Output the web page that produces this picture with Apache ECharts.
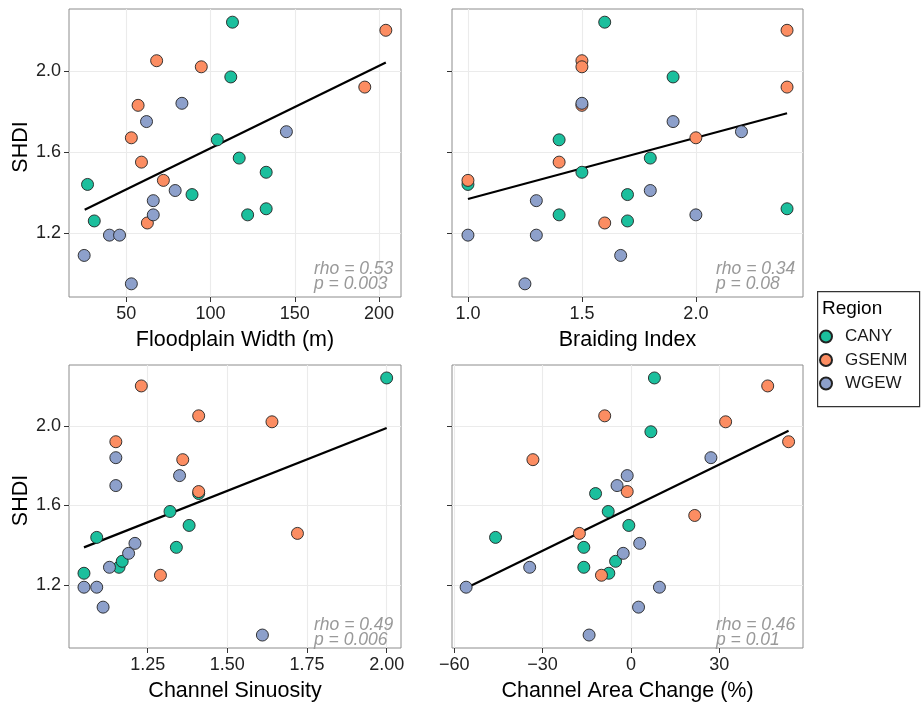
<!DOCTYPE html>
<html>
<head>
<meta charset="utf-8">
<script src="https://cdn.jsdelivr.net/npm/echarts@6/dist/echarts.min.js"></script>
<style>
  html, body { margin: 0; padding: 0; background: #fff; }
  #chart { width: 924px; height: 703px; }
</style>
</head>
<body>
<div id="chart"></div>
<script>
  const FONT = 'Liberation Sans, Arial, Helvetica, sans-serif';

  const regions = ['CANY', 'GSENM', 'WGEW'];
  const regionColors = ['#1bbf9d', '#fc8d62', '#8da0cb'];

  // SHDI per site (same sites in every panel)
  const shdiCANY = [2.24, 1.97, 1.66, 1.57, 1.50, 1.44, 1.39, 1.29, 1.32, 1.26];
  const shdiGSENM = [2.20, 2.05, 2.02, 1.92, 1.83, 1.67, 1.55, 1.46, 1.25];
  const shdiWGEW = [1.84, 1.75, 1.70, 1.41, 1.36, 1.29, 1.19, 1.19, 1.09, 0.95];

  // Floodplain width (m)
  const widthCANY = [113, 112, 104, 117, 133, 27, 89, 122, 133, 31];
  const widthGSENM = [204, 68, 94.5, 191.5, 57, 53, 59, 72, 62.5];
  const widthWGEW = [83, 62, 145, 79, 66, 66, 40, 46, 25, 53];

  // Braiding index
  const braidCANY = [1.6, 1.9, 1.4, 1.8, 1.5, 1.0, 1.7, 1.4, 2.4, 1.7];
  const braidGSENM = [2.4, 1.5, 1.5, 2.4, 1.5, 2.0, 1.4, 1.0, 1.6];
  const braidWGEW = [1.5, 1.9, 2.2, 1.8, 1.3, 2.0, 1.0, 1.3, 1.67, 1.25];

  // Channel sinuosity (null = not plotted)
  const sinuCANY = [2.0, null, 1.41, 1.32, 1.38, 1.09, 1.34, 1.16, 1.17, 1.05];
  const sinuGSENM = [1.23, 1.41, 1.64, 1.15, 1.36, 1.41, null, 1.72, 1.29];
  const sinuWGEW = [1.15, 1.35, 1.15, 1.21, 1.19, 1.13, 1.05, 1.09, 1.11, 1.61];

  // Channel area change (%)
  const areaCANY = [8, 6.8, -12, -7.7, -0.7, -46, -16, -16, -5.2, -7.5];
  const areaGSENM = [46.5, -8.9, 32.2, 53.6, -33.3, -1.25, 21.7, -17.5, -10];
  const areaWGEW = [27.2, -1.25, -4.7, 3.0, -2.6, -34.4, -56, 9.7, 2.6, -14.2];

  // fitted lines (ends)
  const fitX1 = [25.3, 204], fitY1 = [1.315, 2.041];
  const fitX2 = [1.0, 2.4], fitY2 = [1.368, 1.791];
  const fitX3 = [1.05, 2.0], fitY3 = [1.39, 1.989];
  const fitX4 = [-55.8, 53.6], fitY4 = [1.187, 1.975];

  const rhoLabels = ['0.53', '0.34', '0.49', '0.46'];
  const pLabels = ['0.003', '0.08', '0.006', '0.01'];

  const xTicks1 = [50, 100, 150, 200];
  const xTicks2 = [1.0, 1.5, 2.0];
  const xTicks3 = [1.25, 1.5, 1.75, 2.0];
  const xTicks4 = [-60, -30, 0, 30];
  const yTicks = [1.2, 1.6, 2.0];

  const xNames = ['Floodplain Width (m)', 'Braiding Index', 'Channel Sinuosity', 'Channel Area Change (%)'];

  const shdi = [shdiCANY, shdiGSENM, shdiWGEW];
  const xData = [
    [widthCANY, widthGSENM, widthWGEW],
    [braidCANY, braidGSENM, braidWGEW],
    [sinuCANY, sinuGSENM, sinuWGEW],
    [areaCANY, areaGSENM, areaWGEW]
  ];
  const fits = [[fitX1, fitY1], [fitX2, fitY2], [fitX3, fitY3], [fitX4, fitY4]];

  const grids = [
    { left: 69, top: 9, width: 332, height: 288 },
    { left: 452, top: 9, width: 351, height: 288 },
    { left: 69, top: 365, width: 332, height: 288 },
    { left: 452, top: 365, width: 351, height: 288 }
  ];
  const xRanges = [[16, 213], [0.93, 2.47], [1.003, 2.045], [-60.8, 58.5]];
  const xTicks = [xTicks1, xTicks2, xTicks3, xTicks4];
  const xFormat = [
    v => String(v),
    v => v.toFixed(1),
    v => v.toFixed(2),
    v => (v < 0 ? '\u2212' + Math.abs(v) : String(v))
  ];

  const tickStyle = { show: true, length: 5, lineStyle: { color: '#333', width: 1 } };
  const gridLine = { show: true, lineStyle: { color: '#ebebeb', width: 1.1 } };

  const xAxis = [], yAxis = [], series = [], graphic = [];

  for (let i = 0; i < 4; i++) {
    xAxis.push({
      type: 'value', gridIndex: i,
      min: xRanges[i][0], max: xRanges[i][1],
      name: xNames[i], nameLocation: 'middle', nameGap: 32,
      nameTextStyle: { fontFamily: FONT, fontSize: 21.5, color: '#000' },
      axisLine: { show: false, onZero: false },
      axisTick: Object.assign({ customValues: xTicks[i] }, tickStyle),
      axisLabel: {
        customValues: xTicks[i], formatter: xFormat[i], margin: 8,
        fontFamily: FONT, fontSize: 18, color: '#222'
      },
      splitLine: gridLine
    });
    const leftCol = i % 2 === 0;
    yAxis.push({
      type: 'value', gridIndex: i, min: 0.885, max: 2.305,
      name: leftCol ? 'SHDI' : '', nameLocation: 'middle', nameGap: 36,
      nameTextStyle: { fontFamily: FONT, fontSize: 21.5, color: '#000', padding: [0, 0, 0, 12] },
      axisLine: { show: false, onZero: false },
      axisTick: Object.assign({ customValues: yTicks }, tickStyle),
      axisLabel: {
        show: leftCol, customValues: yTicks, formatter: v => v.toFixed(1), margin: 8,
        fontFamily: FONT, fontSize: 18, color: '#222'
      },
      splitLine: gridLine
    });

    // regression line
    series.push({
      name: 'fit' + i, type: 'line', xAxisIndex: i, yAxisIndex: i,
      data: fits[i][0].map((x, k) => [x, fits[i][1][k]]),
      showSymbol: false, silent: true, z: 3,
      lineStyle: { color: '#000', width: 2.2 }
    });

    for (let r = 0; r < 3; r++) {
      const pts = [];
      xData[i][r].forEach((x, k) => { if (x !== null) pts.push([x, shdi[r][k]]); });
      series.push({
        name: regions[r], type: 'scatter', xAxisIndex: i, yAxisIndex: i,
        data: pts, symbolSize: 12, z: 4,
        itemStyle: { color: regionColors[r], borderColor: '#222', borderWidth: 0.9, opacity: 1 }
      });
    }

    const g = grids[i];
    const tx = g.left + g.width - 87;
    const bottom = g.top + g.height;
    graphic.push({
      type: 'text', left: tx, top: bottom - 37, z: 10,
      style: { text: 'rho = ' + rhoLabels[i], fill: '#999', font: 'italic 17.5px ' + FONT }
    });
    graphic.push({
      type: 'text', left: tx, top: bottom - 21.5, z: 10,
      style: { text: 'p = ' + pLabels[i], fill: '#999', font: 'italic 17.5px ' + FONT }
    });
  }

  // legend box and title
  graphic.push({
    type: 'rect', left: 817, top: 291, z: 1,
    shape: { width: 102, height: 115 },
    style: { fill: '#fff', stroke: '#333', lineWidth: 1.2 }
  });
  graphic.push({
    type: 'text', left: 822, top: 299, z: 2,
    style: { text: 'Region', fill: '#000', font: '19px ' + FONT }
  });

  const chart = echarts.init(document.getElementById('chart'));
  chart.setOption({
    animation: false,
    backgroundColor: '#fff',
    grid: grids.map(g => Object.assign({
      show: true, borderColor: '#8c8c8c', borderWidth: 1, backgroundColor: '#fff'
    }, g)),
    xAxis: xAxis,
    yAxis: yAxis,
    legend: {
      data: regions, orient: 'vertical', left: 819, top: 328, padding: 0,
      icon: 'circle', itemWidth: 28, itemHeight: 12, itemGap: 6.5,
      textStyle: { fontFamily: FONT, fontSize: 17, color: '#1a1a1a' },
      z: 5
    },
    graphic: graphic,
    series: series
  });
</script>
</body>
</html>
